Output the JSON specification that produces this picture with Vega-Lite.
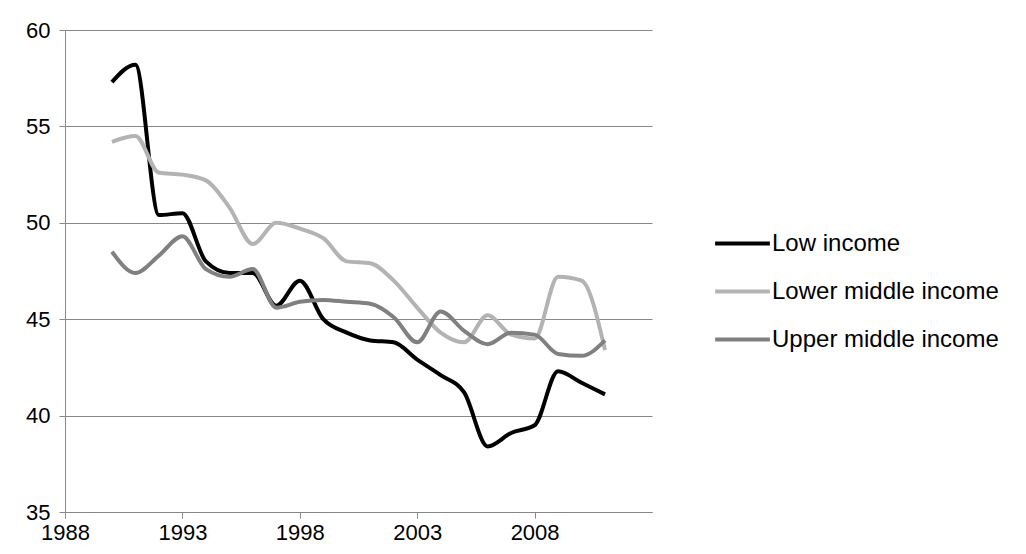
{
  "$schema": "https://vega.github.io/schema/vega-lite/v6.json",
  "width": 587,
  "height": 482,
  "autosize": "none",
  "padding": {"left": 65, "top": 30, "right": 374, "bottom": 42},
  "config": {"font": "Liberation Sans", "view": {"stroke": null}},
  "data": {"values": [
    {"year":1990,"Low income":57.3,"Lower middle income":54.2,"Upper middle income":48.5},
    {"year":1991,"Low income":58.2,"Lower middle income":54.5,"Upper middle income":47.4},
    {"year":1992,"Low income":50.4,"Lower middle income":52.6,"Upper middle income":48.3},
    {"year":1993,"Low income":50.5,"Lower middle income":52.5,"Upper middle income":49.3},
    {"year":1994,"Low income":48.0,"Lower middle income":52.2,"Upper middle income":47.6},
    {"year":1995,"Low income":47.4,"Lower middle income":50.8,"Upper middle income":47.2},
    {"year":1996,"Low income":47.4,"Lower middle income":48.9,"Upper middle income":47.6},
    {"year":1997,"Low income":45.7,"Lower middle income":50.0,"Upper middle income":45.6},
    {"year":1998,"Low income":47.0,"Lower middle income":49.7,"Upper middle income":45.9},
    {"year":1999,"Low income":45.0,"Lower middle income":49.2,"Upper middle income":46.0},
    {"year":2000,"Low income":44.3,"Lower middle income":48.0,"Upper middle income":45.9},
    {"year":2001,"Low income":43.9,"Lower middle income":47.9,"Upper middle income":45.8},
    {"year":2002,"Low income":43.8,"Lower middle income":47.0,"Upper middle income":45.1},
    {"year":2003,"Low income":42.9,"Lower middle income":45.6,"Upper middle income":43.8},
    {"year":2004,"Low income":42.1,"Lower middle income":44.3,"Upper middle income":45.4},
    {"year":2005,"Low income":41.2,"Lower middle income":43.8,"Upper middle income":44.4},
    {"year":2006,"Low income":38.4,"Lower middle income":45.2,"Upper middle income":43.7},
    {"year":2007,"Low income":39.1,"Lower middle income":44.2,"Upper middle income":44.3},
    {"year":2008,"Low income":39.5,"Lower middle income":44.0,"Upper middle income":44.2},
    {"year":2009,"Low income":42.3,"Lower middle income":47.2,"Upper middle income":43.2},
    {"year":2010,"Low income":41.7,"Lower middle income":47.0,"Upper middle income":43.1},
    {"year":2011,"Low income":41.1,"Lower middle income":43.4,"Upper middle income":43.9}
  ]},
  "transform": [{"fold": ["Low income","Lower middle income","Upper middle income"], "as": ["series","value"]}],
  "mark": {"type": "line", "strokeWidth": 4, "interpolate": "monotone"},
  "encoding": {
    "x": {"field": "year", "type": "quantitative", "scale": {"domain": [1988, 2013], "nice": false},
      "axis": {"title": null, "values": [1988,1993,1998,2003,2008], "format": "d", "grid": false, "labelFontSize": 22, "labelColor": "#000", "domainColor": "#888", "tickColor": "#888", "tickSize": 6, "labelPadding": 4, "labelFlush": false, "labelOverlap": false}},
    "y": {"field": "value", "type": "quantitative", "scale": {"domain": [35, 60], "nice": false, "zero": false},
      "axis": {"title": null, "values": [35,40,45,50,55,60], "gridColor": "#888", "labelFontSize": 22, "labelColor": "#000", "domainColor": "#888", "tickColor": "#888", "tickSize": 6, "labelPadding": 9, "labelOverlap": false, "labelFlush": false}},
    "color": {"field": "series", "type": "nominal",
      "scale": {"domain": ["Low income","Lower middle income","Upper middle income"], "range": ["#000000","#b3b3b3","#808080"]},
      "legend": {"title": null, "orient": "none", "legendX": 648, "legendY": 184, "symbolType": "stroke", "symbolStrokeWidth": 4, "symbolSize": 3000, "labelFontSize": 24, "labelColor": "#000", "labelLimit": 400, "rowPadding": 6, "labelOffset": 0}}
  }
}
